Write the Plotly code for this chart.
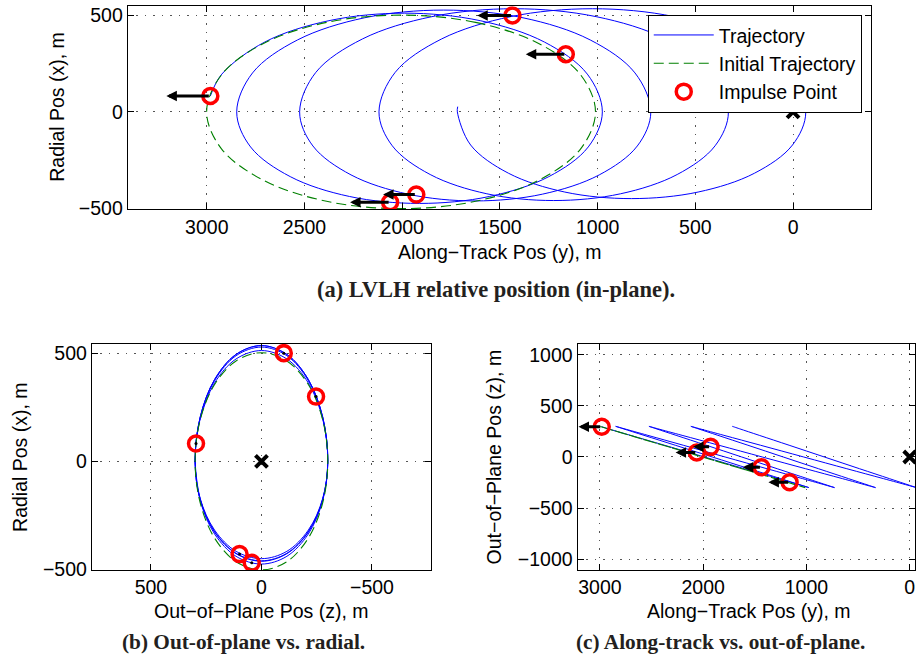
import plotly.graph_objects as go

W, H = 916, 668

# ---------------- data ----------------
# Trajectory: along-track y, radial x, out-of-plane z  (m)
traj_y = [2982,
          2923, 2704, 2375, 1988, 1601, 1272, 1053, 976,
          1048, 1250, 1554, 1912, 2270, 2573, 2776, 2847,
          2766, 2536, 2193, 1788, 1382, 1038, 809, 728,
          797, 992, 1283, 1627, 1970, 2262, 2457, 2525,
          2442, 2204, 1848, 1428, 1008, 652, 415, 331,
          399, 593, 883, 1225, 1567, 1857, 2051, 2119,
          2036, 1799, 1445, 1027, 609, 255, 18, -65,
          3, 197, 486, 827, 1168, 1457, 1650, 1718, 1716]
traj_x = [82,
          196, 362, 473, 512, 473, 362, 196, 0,
          -182, -336, -439, -475, -439, -336, -182, 0,
          202, 373, 488, 528, 488, 373, 202, 0,
          -177, -327, -427, -462, -427, -327, -177, 0,
          205, 378, 494, 535, 494, 378, 205, 0,
          -176, -325, -425, -460, -425, -325, -176, 0,
          205, 378, 494, 535, 494, 378, 205, 0,
          -172, -318, -416, -450, -416, -318, -172, 0, 27]
traj_z = [296,
          277, 212, 115, 0, -115, -212, -277, -300,
          -277, -212, -115, 0, 115, 212, 277, 300,
          277, 212, 115, 0, -115, -212, -277, -300,
          -277, -212, -115, 0, 115, 212, 277, 300,
          277, 212, 115, 0, -115, -212, -277, -300,
          -277, -212, -115, 0, 115, 212, 277, 300,
          277, 212, 115, 0, -115, -212, -277, -300,
          -277, -212, -115, 0, 115, 212, 277, 300, 299]

# Initial trajectory (closed relative-motion ellipse)
init_y = [2006, 1625, 1302, 1087, 1011, 1087, 1302, 1625, 2006,
          2387, 2710, 2925, 3001, 2925, 2710, 2387, 2006]
init_x = [502, 464, 355, 192, 0, -192, -355, -464, -502,
          -464, -355, -192, 0, 192, 355, 464, 502]
init_z = [0, -115, -212, -277, -300, -277, -212, -115, 0,
          115, 212, 277, 300, 277, 212, 115, 0]

# Impulse points and along-track delta-v arrow lengths
imp_y = [2982, 1163, 2062, 1436, 1928]
imp_x = [82, 299, -469, 500, -429]
imp_z = [296, -247, 44, -101, 99]
imp_dv = [225, 205, 205, 180, 170]

# Target
tgt_y = [0]
tgt_x = [0]
tgt_z = [0]

# Tick values
tick_a_x = [3000, 2500, 2000, 1500, 1000, 500, 0]
tick_a_y = [-500, 0, 500]
tick_b_x = [500, 0, -500]
tick_b_y = [-500, 0, 500]
tick_c_x = [3000, 2000, 1000, 0]
tick_c_y = [-1000, -500, 0, 500, 1000]

# ---------------- styling ----------------
FONT = "Liberation Sans"
FS = 19.5
BLUE = "#0000FF"
GREEN = "#008000"
RED = "#FF0000"


def px_x(p):
    return p / W


def px_y(p):
    return 1 - p / H


def axis(tickvals, rng, domain, anchor):
    return dict(
        domain=domain, anchor=anchor, range=rng, tickvals=tickvals,
        showline=True, linecolor="black", linewidth=1.3, mirror="allticks",
        ticks="inside", ticklen=6, tickwidth=1, tickcolor="black",
        showgrid=True, gridcolor="#555555", gridwidth=1.2, griddash="1.5px,7px",
        zeroline=False, tickfont=dict(family=FONT, size=FS, color="black"),
        fixedrange=True,
    )


fig = go.Figure()

line_blue = dict(color=BLUE, width=1, shape="spline", smoothing=1)
line_green = dict(color=GREEN, width=1.1, dash="10px,5px", shape="spline", smoothing=1)
circ = dict(symbol="circle-open", size=15, color=RED, line=dict(width=3.5, color=RED))
xmark = dict(symbol="x-thin", size=12, color="black", line=dict(width=4, color="black"))

panels = [
    ("x", "y", traj_y, traj_x, init_y, init_x, imp_y, imp_x, tgt_y, tgt_x, True),
    ("x2", "y2", traj_z, traj_x, init_z, init_x, imp_z, imp_x, tgt_z, tgt_x, False),
    ("x3", "y3", traj_y, traj_z, init_y, init_z, imp_y, imp_z, tgt_y, tgt_z, False),
]

for xa, ya, tx, ty, ix, iy, px, py, gx, gy, leg in panels:
    fig.add_trace(go.Scatter(x=tx, y=ty, mode="lines", line=line_blue, name="Trajectory",
                             showlegend=leg, xaxis=xa, yaxis=ya, hoverinfo="skip"))
    fig.add_trace(go.Scatter(x=ix, y=iy, mode="lines", line=line_green, name="Initial Trajectory",
                             showlegend=leg, xaxis=xa, yaxis=ya, hoverinfo="skip"))
    fig.add_trace(go.Scatter(x=px, y=py, mode="markers", marker=circ, name="Impulse Point",
                             showlegend=leg, xaxis=xa, yaxis=ya, hoverinfo="skip"))
    if xa == "x2":
        # along-track delta-v has no component in this projection: zero-length arrows
        fig.add_trace(go.Scatter(x=px, y=py, mode="markers",
                                 marker=dict(symbol="circle", size=3, color="black"),
                                 showlegend=False, xaxis=xa, yaxis=ya, hoverinfo="skip"))
    fig.add_trace(go.Scatter(x=gx, y=gy, mode="markers", marker=xmark, showlegend=False,
                             xaxis=xa, yaxis=ya, hoverinfo="skip"))

annotations = []
# delta-v arrows (along-track direction) in panels (a) and (c)
for xr, yr, vy in (("x", "y", imp_x), ("x3", "y3", imp_z)):
    for i in range(len(imp_y)):
        annotations.append(dict(
            x=imp_y[i] + imp_dv[i], y=vy[i], ax=imp_y[i], ay=vy[i],
            xref=xr, yref=yr, axref=xr, ayref=yr, text="", showarrow=True,
            arrowhead=2, arrowsize=0.7, arrowwidth=3, arrowcolor="black", standoff=0,
        ))

title_font = dict(family=FONT, size=FS, color="black")
axis_titles = [
    ("Along\u2212Track Pos (y), m", 501, 255, 0),
    ("Radial Pos (x), m", 57, 106.7, -90),
    ("Out\u2212of\u2212Plane Pos (z), m", 261.7, 620, 0),
    ("Radial Pos (x), m", 20, 463.3, -90),
    ("Along\u2212Track Pos (y), m", 750, 620, 0),
    ("Out\u2212of\u2212Plane Pos (z), m", 495, 463.3, -90),
]
for txt, cx, cy, ang in axis_titles:
    annotations.append(dict(text=txt, x=px_x(cx), y=px_y(cy), xref="paper", yref="paper",
                            xanchor="center", yanchor="middle", showarrow=False,
                            textangle=ang, font=title_font))

cap_font = "Liberation Serif"
captions = [
    ("<b>(a) LVLH relative position (in-plane).</b>", 496.7, 293, 22.5),
    ("<b>(b) Out-of-plane vs. radial.</b>", 243.3, 651.7, 21.3),
    ("<b>(c) Along-track vs. out-of-plane.</b>", 721, 651.7, 21.3),
]
for txt, cx, cy, fs in captions:
    annotations.append(dict(text=txt, x=px_x(cx), y=px_y(cy), xref="paper", yref="paper",
                            xanchor="center", yanchor="middle", showarrow=False,
                            font=dict(family=cap_font, size=fs, color="#231f20")))

fig.update_layout(
    width=W, height=H, margin=dict(l=0, r=0, t=0, b=0),
    paper_bgcolor="white", plot_bgcolor="white",
    xaxis=axis(tick_a_x, [3404, -399], [px_x(128), px_x(872)], "y"),
    yaxis=axis(tick_a_y, [-505, 548], [px_y(211), px_y(4.3)], "x"),
    xaxis2=axis(tick_b_x, [767, -768], [px_x(92), px_x(431.7)], "y2"),
    yaxis2=axis(tick_b_y, [-502, 542], [px_y(578.3), px_y(348.3)], "x2"),
    xaxis3=axis(tick_c_x, [3215, -51], [px_x(578.3), 1.0], "y3"),
    yaxis3=axis(tick_c_y, [-1106, 1106], [px_y(578.3), px_y(348.3)], "x3"),
    legend=dict(x=px_x(862.7), y=px_y(13), xanchor="right", yanchor="top",
                bgcolor="white", bordercolor="black", borderwidth=1,
                font=dict(family=FONT, size=FS, color="black"),
                itemwidth=60, tracegroupgap=0),
    annotations=annotations,
    showlegend=True,
)

fig.write_html("out.html")
